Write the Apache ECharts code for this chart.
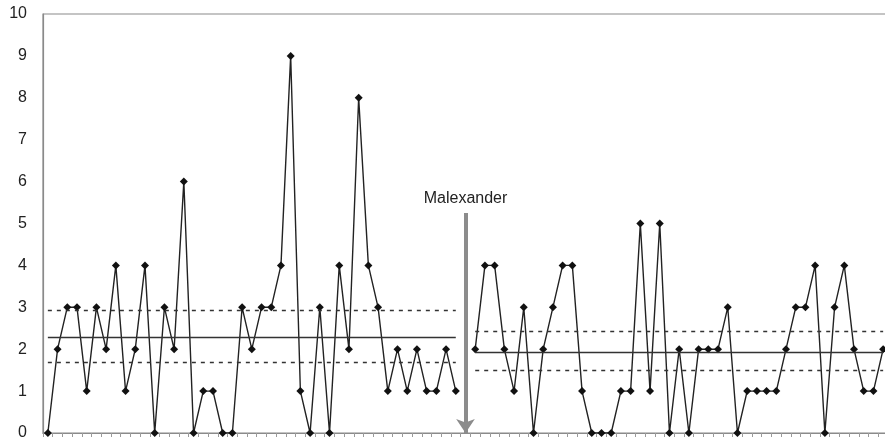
<!DOCTYPE html>
<html>
<head>
<meta charset="utf-8">
<script src="https://cdn.jsdelivr.net/npm/echarts@6/dist/echarts.min.js"></script>
<style>html,body{margin:0;padding:0;background:#fff}#c{width:885px;height:443px}</style>
</head>
<body>
<div id="c"></div>
<script>
// Data
var before = [0,2,3,3,1,3,2,4,1,2,4,0,3,2,6,0,1,1,0,0,3,2,3,3,4,9,1,0,3,0,4,2,8,4,3,1,2,1,2,1,1,2,1];
var after  = [2,4,4,2,1,3,0,2,3,4,4,1,0,0,0,1,1,5,1,5,0,2,0,2,2,2,3,0,1,1,1,1,2,3,3,4,0,3,4,2,1,1,2];
var beforeMean = 2.28, beforeUpper = 2.93, beforeLower = 1.69;
var afterMean = 1.93, afterUpper = 2.42, afterLower = 1.50;
var yTicks = [0,1,2,3,4,5,6,7,8,9,10];
var eventLabel = 'Malexander';
var eventTop = 5.25;

var n = before.length + 1 + after.length;
var categories = [];
for (var i = 0; i < n; i++) categories.push(String(i + 1));
var gapIndex = before.length;
var afterStart = gapIndex + 1;

var s1 = [], s2 = [];
for (var i = 0; i < n; i++) {
  s1.push(i < before.length ? before[i] : null);
  s2.push(i >= afterStart ? after[i - afterStart] : null);
}

function hline(x0, x1, y, type) {
  return [{coord: [x0, y], lineStyle: {type: type}}, {coord: [x1, y]}];
}

var chart = echarts.init(document.getElementById('c'), null, {renderer: 'canvas'});
chart.setOption({
  animation: false,
  grid: {left: 43, top: 14, bottom: 10, width: 845, outerBoundsMode: 'none', containLabel: false,
         show: true, borderColor: '#8a8a8a', borderWidth: 1.2},
  xAxis: {
    type: 'category', data: categories, boundaryGap: true,
    axisLine: {show: true, lineStyle: {color: '#8a8a8a', width: 1.2}},
    axisTick: {show: true, interval: 0, length: 4, inside: false, lineStyle: {color: '#9a9a9a'}},
    axisLabel: {show: false, interval: 0},
    splitLine: {show: false}
  },
  yAxis: {
    type: 'value', min: yTicks[0], max: yTicks[yTicks.length - 1], interval: 1,
    axisLine: {show: true, lineStyle: {color: '#8a8a8a', width: 1.2}},
    axisTick: {show: false},
    splitLine: {show: false},
    axisLabel: {color: '#222', fontSize: 16, fontFamily: 'Liberation Sans, Arial, sans-serif', margin: 16}
  },
  series: [
    {
      type: 'line', data: s1, symbol: 'diamond', symbolSize: 8, showSymbol: true, showAllSymbol: true,
      itemStyle: {color: '#111'}, lineStyle: {color: '#222', width: 1.4},
      markLine: {
        silent: true, symbol: ['none', 'none'], label: {show: false},
        lineStyle: {color: '#333', width: 1.3},
        data: [
          hline(0, before.length - 1, beforeMean, 'solid'),
          hline(0, before.length - 1, beforeUpper, [4, 5]),
          hline(0, before.length - 1, beforeLower, [4, 5])
        ]
      }
    },
    {
      type: 'line', data: s2, symbol: 'diamond', symbolSize: 8, showSymbol: true, showAllSymbol: true,
      itemStyle: {color: '#111'}, lineStyle: {color: '#222', width: 1.4},
      markLine: {
        silent: true, symbol: ['none', 'none'], label: {show: false},
        lineStyle: {color: '#333', width: 1.3},
        data: [
          hline(afterStart, n - 1, afterMean, 'solid'),
          hline(afterStart, n - 1, afterUpper, [4, 5]),
          hline(afterStart, n - 1, afterLower, [4, 5])
        ]
      }
    },
    {
      type: 'line', data: [], silent: true,
      markLine: {
        silent: true, symbol: ['none', 'arrow'], symbolSize: [14, 14],
        lineStyle: {color: '#8c8c8c', width: 4, type: 'solid'},
        label: {
          show: true, position: 'start', formatter: eventLabel, distance: 6,
          color: '#222', fontSize: 16, fontFamily: 'Liberation Sans, Arial, sans-serif'
        },
        data: [[{coord: [gapIndex, eventTop]}, {coord: [gapIndex, 0]}]]
      }
    }
  ]
});
</script>
</body>
</html>
